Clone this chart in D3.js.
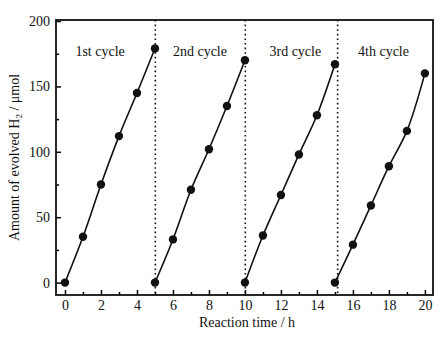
<!DOCTYPE html>
<html lang="en">
  <head>
    <meta charset="utf-8"/>
    <script src="https://d3js.org/d3.v7.min.js"></script>
    <style>
      body { margin: 0; background: #fff; }
      svg text { font-family: "Liberation Serif", "DejaVu Serif", serif; fill: #111; }
    </style>
  </head>
  <body>
    <svg id="chart" width="447" height="340"></svg>
  <script>
  // hours for each cycle, and evolved H2 (umol)
  const cycleNames = ["1st cycle", "2nd cycle", "3rd cycle", "4th cycle"];
  const cycleTimes = [
    [0, 1, 2, 3, 4, 5],
    [5, 6, 7, 8, 9, 10],
    [10, 11, 12, 13, 14, 15],
    [15, 16, 17, 18, 19, 20]
  ];
  const cycleH2 = [
    [0, 35, 75, 112, 145, 179],
    [0, 33, 71, 102, 135, 170],
    [0, 36, 67, 98, 128, 167],
    [0, 29, 59, 89, 116, 160]
  ];
  const separators = [5.02, 10.02, 15.15];
  const labelPos = [1.95, 7.5, 12.8, 17.7];
  const xTicks = [0, 2, 4, 6, 8, 10, 12, 14, 16, 18, 20];
  const yTicks = [0, 50, 100, 150, 200];

  const margin = {top: 20, right: 14, bottom: 45, left: 56},
    width = 447 - margin.left - margin.right,
    height = 340 - margin.top - margin.bottom;

  let svg = d3.select("#chart");
  let g = svg.append("g").attr("transform", "translate(" + margin.left + "," + margin.top + ")");

  let x = d3.scaleLinear().domain([-0.5, 20.45]).range([0, width]);
  let y = d3.scaleLinear().domain([-9.5, 200.8]).range([height, 0]);

  // minor ticks first
  g.append("g")
    .attr("transform", "translate(0," + height + ")")
    .call(d3.axisBottom(x).tickValues(d3.range(1, 21, 2)).tickSize(-3).tickFormat(""))
    .call(a => a.select(".domain").remove())
    .selectAll("line").attr("stroke-width", 1.5);
  g.append("g")
    .call(d3.axisLeft(y).tickValues([25, 75, 125, 175]).tickSize(-3).tickFormat(""))
    .call(a => a.select(".domain").remove())
    .selectAll("line").attr("stroke-width", 1.5);

  let xAxis = g.append("g")
    .attr("transform", "translate(0," + height + ")")
    .call(d3.axisBottom(x).tickValues(xTicks).tickSize(-5).tickPadding(5));
  xAxis.select(".domain").remove();
  xAxis.selectAll("line").attr("stroke-width", 1.5);
  xAxis.selectAll("text").attr("font-size", "14px").attr("font-family", "Liberation Serif");

  let yAxis = g.append("g")
    .call(d3.axisLeft(y).tickValues(yTicks).tickSize(-5).tickPadding(6));
  yAxis.select(".domain").remove();
  yAxis.selectAll("line").attr("stroke-width", 1.5);
  yAxis.selectAll("text").attr("font-size", "14px").attr("font-family", "Liberation Serif");

  // frame
  g.append("rect")
    .attr("width", width).attr("height", height)
    .attr("fill", "none").attr("stroke", "#111").attr("stroke-width", 1.8);

  // cycle separators
  g.selectAll(".sep")
    .data(separators)
    .enter()
    .append("line")
      .attr("x1", d => x(d)).attr("x2", d => x(d))
      .attr("y1", 0).attr("y2", height)
      .attr("stroke", "#111").attr("stroke-width", 1.6)
      .attr("stroke-dasharray", "1.6,3");

  let line = d3.line()
    .x(d => x(d[0])).y(d => y(d[1]))
    .curve(d3.curveCatmullRom);

  cycleTimes.forEach(function(ts, i) {
    let pts = ts.map((t, j) => [t, cycleH2[i][j]]);
    g.append("path")
      .datum(pts)
      .attr("d", line)
      .attr("fill", "none").attr("stroke", "#111").attr("stroke-width", 1.6);
    g.selectAll(".pt" + i)
      .data(pts)
      .enter()
      .append("circle")
        .attr("cx", d => x(d[0])).attr("cy", d => y(d[1]))
        .attr("r", 4.2).attr("fill", "#111");
  });

  g.selectAll(".cyc")
    .data(cycleNames)
    .enter()
    .append("text")
      .attr("x", (d, i) => x(labelPos[i]))
      .attr("y", y(173))
      .attr("text-anchor", "middle")
      .attr("font-size", "14px")
      .text(d => d);

  svg.append("text")
    .attr("x", 247)
    .attr("y", 327)
    .attr("text-anchor", "middle")
    .attr("font-size", "14px")
    .text("Reaction time / h");

  let yl = svg.append("text")
    .attr("transform", "translate(19," + (margin.top + height / 2) + ") rotate(-90)")
    .attr("text-anchor", "middle")
    .attr("font-size", "14px");
  yl.append("tspan").text("Amount of evolved H");
  yl.append("tspan").attr("font-size", "9px").attr("dy", 3).text("2");
  yl.append("tspan").attr("dy", -3).text(" / μmol");
  </script>
  </body>
</html>
